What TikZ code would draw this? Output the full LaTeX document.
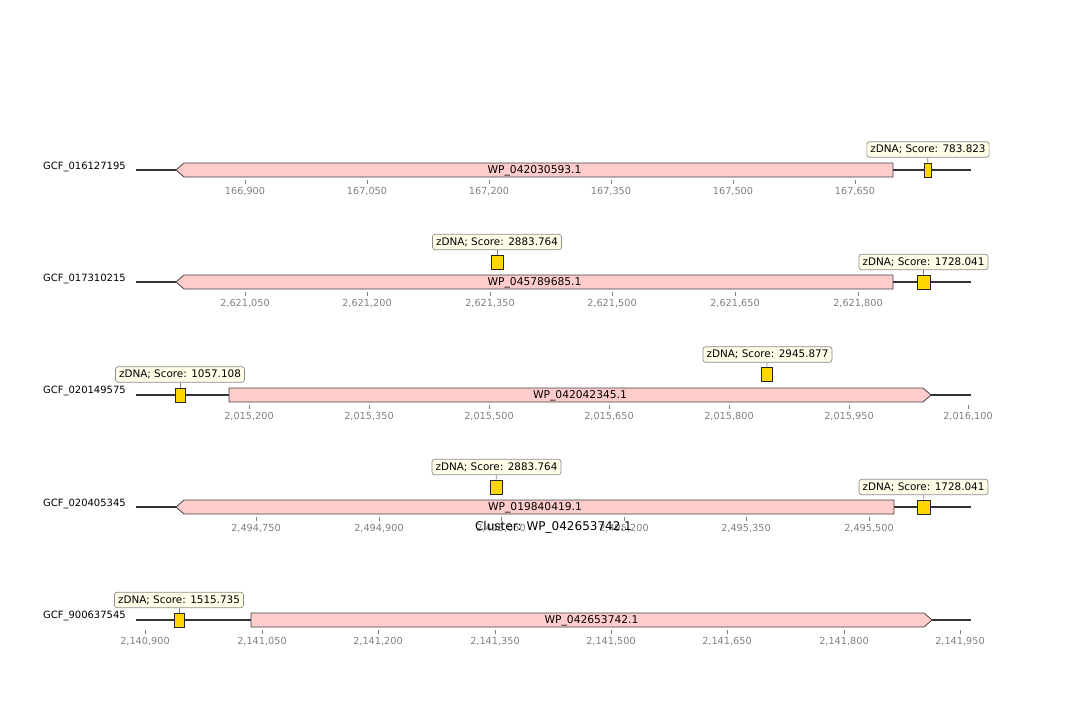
\documentclass[tikz,border=0pt]{standalone}
\usepackage{fontspec}
\setmainfont{DejaVu Sans}
\usetikzlibrary{positioning}
\definecolor{zgold}{HTML}{FFD700}
\definecolor{zcream}{HTML}{FFFCE8}
\definecolor{tickgray}{HTML}{808080}

\begin{document}
\begin{tikzpicture}[
  x=1pt, y=-1pt,
  seq/.style={draw=black!80, line width=1.3pt},
  gene/.style={draw=black!75, fill=red!20, line width=0.8pt, line join=miter},
  glbl/.style={font=\fontsize{10.7}{12}\selectfont, inner sep=0pt},
  rowname/.style={font=\fontsize{10}{12}\selectfont, anchor=east, inner sep=0pt},
  zbox/.style={draw=black!85, fill=zgold, line width=0.7pt, minimum height=14pt, inner sep=0pt},
  zlbl/.style={draw=black!45, fill=zcream, rounded corners=2.5pt, line width=0.7pt,
               font=\fontsize{10.4}{12}\selectfont, inner xsep=3.5pt, inner ysep=3.3pt},
  zlink/.style={draw=black!50, line width=0.6pt},
  tickmark/.style={draw=tickgray, line width=0.6pt},
  ticklbl/.style={font=\fontsize{9.7}{11}\selectfont, text=tickgray, inner sep=0pt},
]
\useasboundingbox (0,0) rectangle (1080,720);

% row 1: GCF_016127195
\node[rowname] (n1) at (126,167) {GCF\_016127195};
\draw[seq] (136,170) -- (971,170);
\draw[gene] (176,170) -- (184,163) -- (893,163) -- (893,177) -- (184,177) -- cycle;
\node[glbl] (g1) at (534.5,170.5) {WP\_042030593.1};
\node[zbox, minimum width=7pt] (z1) at (927.5,170) {};
\node[zlbl] (z1l) at (928,149.5) {zDNA; Score: 783.823};
\draw[zlink] (z1l) -- (z1);
\foreach \x/\t [count=\i] in {245/{166,900}, 367/{167,050}, 489/{167,200}, 611/{167,350}, 733/{167,500}, 855/{167,650}} {
  \draw[tickmark] (\x,180) -- (\x,184);
  \node[ticklbl] (a1-\i) at (\x,191.5) {\t};
}

% row 2: GCF_017310215
\node[rowname] (n2) at (126,279) {GCF\_017310215};
\draw[seq] (136,282) -- (971,282);
\draw[gene] (176,282) -- (184,275) -- (893,275) -- (893,289) -- (184,289) -- cycle;
\node[glbl] (g2) at (534.5,282.5) {WP\_045789685.1};
\node[zbox, minimum width=12pt] (z2a) at (497,262) {};
\node[zlbl] (z2al) at (497,242) {zDNA; Score: 2883.764};
\draw[zlink] (z2al) -- (z2a);
\node[zbox, minimum width=13pt] (z2b) at (923.5,282) {};
\node[zlbl] (z2bl) at (923.5,262) {zDNA; Score: 1728.041};
\draw[zlink] (z2bl) -- (z2b);
\foreach \x/\t [count=\i] in {245/{2,621,050}, 367/{2,621,200}, 490/{2,621,350}, 612/{2,621,500}, 735/{2,621,650}, 858/{2,621,800}} {
  \draw[tickmark] (\x,292) -- (\x,296);
  \node[ticklbl] (a2-\i) at (\x,303.5) {\t};
}

% row 3: GCF_020149575
\node[rowname] (n3) at (126,391) {GCF\_020149575};
\draw[seq] (136,395) -- (971,395);
\draw[gene] (229,388) -- (923,388) -- (931,395) -- (923,402) -- (229,402) -- cycle;
\node[glbl] (g3) at (580,395.5) {WP\_042042345.1};
\node[zbox, minimum width=10pt] (z3a) at (180,395) {};
\node[zlbl] (z3al) at (180,374.5) {zDNA; Score: 1057.108};
\draw[zlink] (z3al) -- (z3a);
\node[zbox, minimum width=11pt] (z3b) at (766.5,374.5) {};
\node[zlbl] (z3bl) at (767.5,354.5) {zDNA; Score: 2945.877};
\draw[zlink] (z3bl) -- (z3b);
\foreach \x/\t [count=\i] in {249/{2,015,200}, 369/{2,015,350}, 489/{2,015,500}, 609/{2,015,650}, 729/{2,015,800}, 849/{2,015,950}, 968/{2,016,100}} {
  \draw[tickmark] (\x,405) -- (\x,409);
  \node[ticklbl] (a3-\i) at (\x,416.5) {\t};
}

% row 4: GCF_020405345
\node[rowname] (n4) at (126,504) {GCF\_020405345};
\draw[seq] (136,507) -- (971,507);
\draw[gene] (176,507) -- (184,500) -- (894,500) -- (894,514) -- (184,514) -- cycle;
\node[glbl] (g4) at (535,507.5) {WP\_019840419.1};
\node[zbox, minimum width=12pt] (z4a) at (496,487) {};
\node[zlbl] (z4al) at (496.5,467) {zDNA; Score: 2883.764};
\draw[zlink] (z4al) -- (z4a);
\node[zbox, minimum width=13pt] (z4b) at (924,507) {};
\node[zlbl] (z4bl) at (923.5,487) {zDNA; Score: 1728.041};
\draw[zlink] (z4bl) -- (z4b);
\foreach \x/\t [count=\i] in {256/{2,494,750}, 379/{2,494,900}, 501/{2,495,050}, 624/{2,495,200}, 746/{2,495,350}, 869/{2,495,500}} {
  \draw[tickmark] (\x,517) -- (\x,521);
  \node[ticklbl] (a4-\i) at (\x,528.5) {\t};
}

% cluster title
\node[font=\fontsize{12}{14}\selectfont, inner sep=0pt] (title) at (553.5,527) {Cluster: WP\_042653742.1};

% row 5: GCF_900637545
\node[rowname] (n5) at (126,616) {GCF\_900637545};
\draw[seq] (136,620) -- (971,620);
\draw[gene] (251,613) -- (924,613) -- (932,620) -- (924,627) -- (251,627) -- cycle;
\node[glbl] (g5) at (591.5,620.5) {WP\_042653742.1};
\node[zbox, minimum width=10pt] (z5) at (179,620) {};
\node[zlbl] (z5l) at (179,600) {zDNA; Score: 1515.735};
\draw[zlink] (z5l) -- (z5);
\foreach \x/\t [count=\i] in {145/{2,140,900}, 262/{2,141,050}, 378/{2,141,200}, 495/{2,141,350}, 611/{2,141,500}, 727/{2,141,650}, 844/{2,141,800}, 960/{2,141,950}} {
  \draw[tickmark] (\x,630) -- (\x,634);
  \node[ticklbl] (a5-\i) at (\x,641.5) {\t};
}
\end{tikzpicture}
\end{document}
